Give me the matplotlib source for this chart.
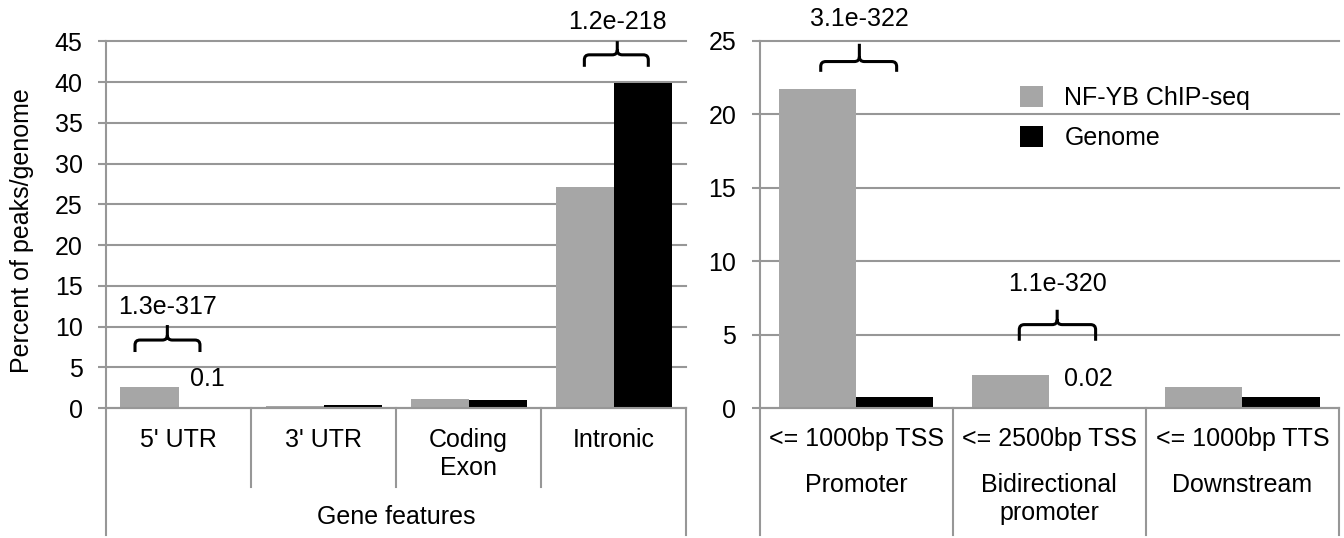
import numpy as np
import matplotlib.pyplot as plt
from matplotlib.path import Path
from matplotlib.patches import PathPatch
from matplotlib.transforms import blended_transform_factory

plt.rcParams['font.family'] = ['Liberation Sans', 'DejaVu Sans']

series = ['NF-YB ChIP-seq', 'Genome']

# gene features panel
gene_cats = ["5' UTR", "3' UTR", 'Coding\nExon', 'Intronic']
gene_group = 'Gene features'
gene_chip = [2.52, 0.25, 1.05, 27.1]
gene_genome = [0.1, 0.4, 0.93, 39.9]
gene_genome_labels = ['0.1', '', '', '']
gene_pvals = ['1.3e-317', '', '', '1.2e-218']

# promoter / downstream panel
reg_cats = ['<= 1000bp TSS', '<= 2500bp TSS', '<= 1000bp TTS']
reg_groups = ['Promoter', 'Bidirectional\npromoter', 'Downstream']
reg_chip = [21.7, 2.26, 1.45]
reg_genome = [0.77, 0.02, 0.77]
reg_genome_labels = ['', '0.02', '']
reg_pvals = ['3.1e-322', '1.1e-320', '']

GRAY = '#a6a6a6'
GRID = '#979797'
FS = 18
W, H = 1344, 538

fig = plt.figure(figsize=(W / 100, H / 100), dpi=100)


def px_axes(l, t, r, b):
    return fig.add_axes([l / W, 1 - b / H, (r - l) / W, (b - t) / H])


def brace(ax, xl, xr, xm, yb, yh, yt, rx, ry):
    verts = [(xl, yb), (xl, yh - ry), (xl, yh), (xl + rx, yh), (xm - rx, yh),
             (xm, yh), (xm, yh + ry), (xm, yt),
             (xr, yb), (xr, yh - ry), (xr, yh), (xr - rx, yh), (xm + rx, yh),
             (xm, yh), (xm, yh + ry)]
    codes = [Path.MOVETO, Path.LINETO, Path.CURVE3, Path.CURVE3, Path.LINETO,
             Path.CURVE3, Path.CURVE3, Path.LINETO,
             Path.MOVETO, Path.LINETO, Path.CURVE3, Path.CURVE3, Path.LINETO,
             Path.CURVE3, Path.CURVE3]
    ax.add_patch(PathPatch(Path(verts, codes), fill=False, lw=2.2, ec='black',
                           clip_on=False, zorder=5))


def draw_panel(ax, cats, chip, genome, gl, ymax):
    x = np.arange(len(cats))
    ax.bar(x - 0.2, chip, 0.4, color=GRAY, label=series[0], zorder=3)
    ax.bar(x + 0.2, genome, 0.4, color='black', label=series[1], zorder=3)
    ax.set_xlim(-0.5, len(cats) - 0.5)
    ax.set_ylim(0, ymax)
    ax.set_yticks(np.arange(0, ymax + 1, 5))
    ax.yaxis.grid(True, color=GRID, lw=1.5)
    for gl_ in ax.get_ygridlines():
        gl_.set_clip_on(False)
    ax.set_axisbelow(True)
    # category axis line sits on top of the bars
    ax.axhline(0, color=GRID, lw=1.5, zorder=4, clip_on=False)
    for s in ax.spines.values():
        s.set_visible(False)
    ax.tick_params(axis='y', length=5.8, width=1.5, color=GRID, pad=11, labelsize=FS)
    ax.tick_params(axis='x', length=0, labelbottom=False)
    tr = blended_transform_factory(ax.transData, ax.transAxes)
    ax.plot([-0.5, -0.5], [-0.346, 1], color=GRID, lw=1.5, transform=tr, clip_on=False)
    for i, lab in enumerate(gl):
        if lab:
            ax.annotate(lab, (x[i] + 0.2, 0), xytext=(0, 21), textcoords='offset points',
                        ha='center', va='center', fontsize=FS)
    return tr


# left panel
ax1 = px_axes(106, 41.3, 686, 408)
tr1 = draw_panel(ax1, gene_cats, gene_chip, gene_genome, gene_genome_labels, 45)
for xd in [0.5, 1.5, 2.5]:
    ax1.plot([xd, xd], [0, -0.215], color=GRID, lw=1.5, transform=tr1, clip_on=False)
ax1.plot([3.5, 3.5], [0, -0.346], color=GRID, lw=1.5, transform=tr1, clip_on=False)
for i, c in enumerate(gene_cats):
    ax1.text(i, -(428 - 408) / 366.7, c, transform=tr1, ha='center', va='top', fontsize=FS)
ax1.text(1.5, -(505 - 408) / 366.7, gene_group, transform=tr1, ha='center', va='top', fontsize=FS)

# right panel
ax2 = px_axes(759.5, 41, 1339, 408)
tr2 = draw_panel(ax2, reg_cats, reg_chip, reg_genome, reg_genome_labels, 25)
for xd in [0.5, 1.5, 2.5]:
    ax2.plot([xd, xd], [0, -0.346], color=GRID, lw=1.5, transform=tr2, clip_on=False)
for i, c in enumerate(reg_cats):
    ax2.text(i, -(427 - 408) / 367, c, transform=tr2, ha='center', va='top', fontsize=FS)
    ax2.text(i, -(473 - 408) / 367, reg_groups[i], transform=tr2, ha='center', va='top',
             fontsize=FS)

# p-value braces: (index, x left, x right, x tip, y bottom, y bar, y tip, y text)
left_braces = [(0, -0.30, 0.148, -0.077, 6.87, 8.34, 10.18, 12.39),
               (3, 2.799, 3.24, 3.026, 41.87, 43.34, 45.02, 47.36)]
right_braces = [(0, -0.183, 0.21, 0.017, 22.9, 23.6, 24.81, 26.51),
                (1, 0.845, 1.24, 1.041, 4.58, 5.68, 6.69, 8.48)]
for ax, braces, pvals, ppu, cw in [(ax1, left_braces, gene_pvals, 8.15, 145),
                                   (ax2, right_braces, reg_pvals, 14.68, 193)]:
    for i, xl, xr, xm, yb, yh, yt, ytx in braces:
        brace(ax, xl, xr, xm, yb, yh, yt, 5 / cw, 5 / ppu)
        ax.text(xm, ytx, pvals[i], ha='center', va='center', fontsize=FS, clip_on=False)

ax2.legend(loc='upper left', bbox_to_anchor=(1020 / W, 1 - 86 / H), bbox_transform=fig.transFigure,
           frameon=False, borderpad=0, borderaxespad=0, handlelength=0.92, handleheight=0.92,
           handletextpad=0.85, labelspacing=0.62, fontsize=FS)

fig.text(22 / W, 1 - 231 / H, 'Percent of peaks/genome', rotation=90, ha='center', va='center',
         fontsize=FS)

fig.savefig('out.png', dpi=100)
